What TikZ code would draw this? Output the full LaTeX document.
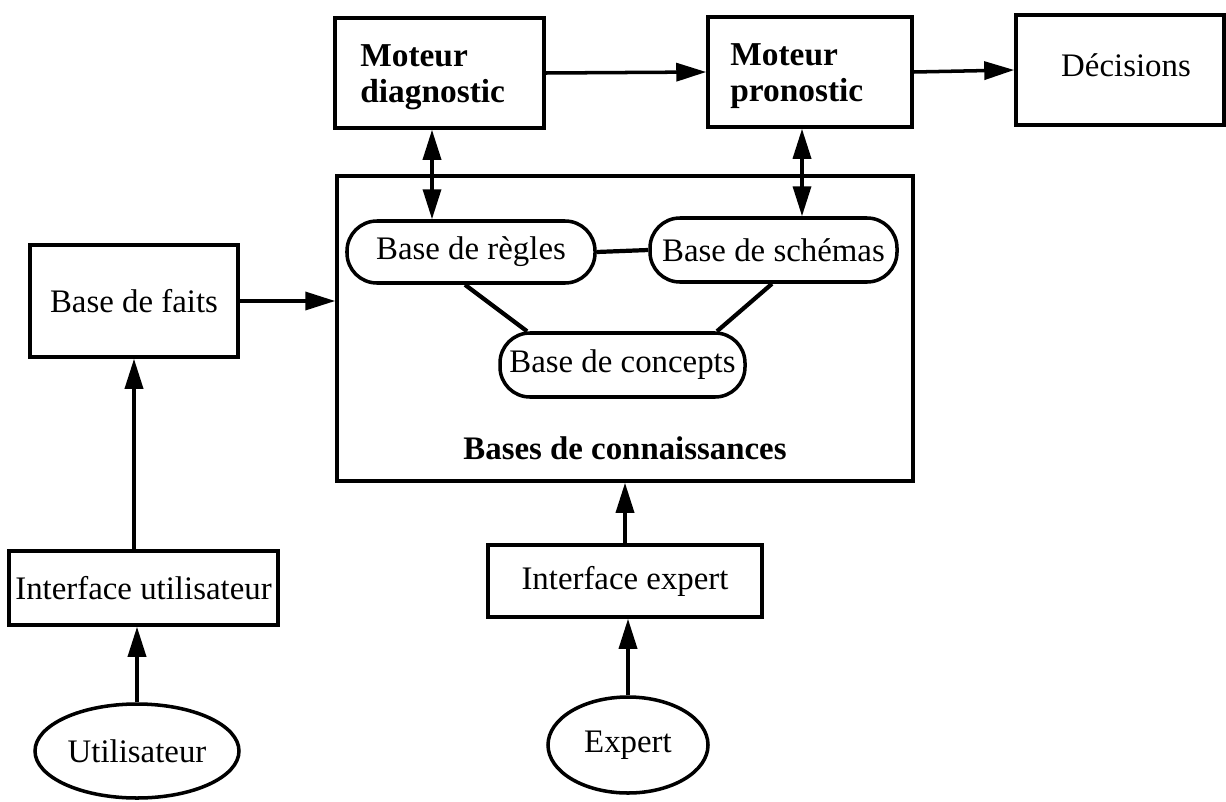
\documentclass[tikz,border=0pt]{standalone}
\usepackage{fontspec}
\setmainfont{Liberation Serif}
\usetikzlibrary{arrows.meta,shapes.geometric}

\begin{document}
\begin{tikzpicture}[x=0.02cm, y=-0.02cm,
    every node/.style={font=\fontsize{18.7}{21}\selectfont},
    boite/.style={draw, line width=2pt, inner sep=0pt},
    moteur/.style={align=left, inner sep=0pt, anchor=west, font=\fontsize{19}{20.5}\selectfont\bfseries},
    base/.style={draw, line width=2pt, rounded corners=0.6cm, inner sep=0pt},
    acteur/.style={draw, ellipse, line width=2pt, inner sep=0pt},
    fleche/.style={line width=2pt, -{Triangle[length=0.6cm,width=0.36cm]}},
    dfleche/.style={line width=2pt, {Triangle[length=0.6cm,width=0.36cm]}-{Triangle[length=0.6cm,width=0.36cm]}},
    lien/.style={line width=2.4pt}]
    \useasboundingbox (0,0) rectangle (1226,801);

    % moteurs et decisions
    \node[boite, minimum width=209*0.02cm, minimum height=110*0.02cm] (diag) at (439.5, 73) {};
    \node[moteur] (diagtxt) at (360, 77) {Moteur\\diagnostic};
    \node[boite, minimum width=204*0.02cm, minimum height=110*0.02cm] (pron) at (810, 72) {};
    \node[moteur] (prontxt) at (730, 76) {Moteur\\pronostic};
    \node[boite, minimum width=208*0.02cm, minimum height=110*0.02cm] (dec) at (1120, 70) {};
    \node[] (dectxt) at (1126, 65) {D\'ecisions};

    % bases de connaissances
    \node[boite, minimum width=576*0.02cm, minimum height=305*0.02cm] (kb) at (625, 328.5) {};
    \node[font=\fontsize{18.7}{21}\selectfont\bfseries] (kbtxt) at (625, 448) {Bases de connaissances};
    \node[base, minimum width=248*0.02cm, minimum height=62*0.02cm] (regles) at (471, 252) {Base de r\`egles};
    \node[base, minimum width=247*0.02cm, minimum height=64*0.02cm] (schemas) at (773.5, 250) {Base de sch\'emas};
    \node[base, minimum width=245*0.02cm, minimum height=64*0.02cm] (concepts) at (622.5, 365) {Base de concepts};

    % faits et interfaces
    \node[boite, minimum width=208*0.02cm, minimum height=112*0.02cm] (faits) at (134, 301) {Base de faits};
    \node[boite, minimum width=269*0.02cm, minimum height=74*0.02cm] (iu) at (143.5, 588) {Interface utilisateur};
    \node[boite, minimum width=274*0.02cm, minimum height=72*0.02cm] (ie) at (625, 581) {Interface expert};
    \node[acteur, minimum width=204*0.02cm, minimum height=94*0.02cm] (user) at (137, 751) {Utilisateur};
    \node[acteur, minimum width=160*0.02cm, minimum height=96*0.02cm] (expert) at (628, 745) {Expert};

    % connexions
    \draw[fleche] (diag.east) -- (pron.west);
    \draw[fleche] (pron.east) -- (dec.west);
    \draw[dfleche] (diag.south -| 432,0) -- (regles.north -| 432,0);
    \draw[dfleche] (pron.south -| 802,0) -- (schemas.north -| 802,0);
    \draw[lien] (regles.east) -- (schemas.west);
    \draw[lien] (regles.south -| 465,0) -- (concepts.north -| 527,0);
    \draw[lien] (schemas.south -| 772,0) -- (concepts.north -| 717,0);
    \draw[fleche] (faits.east) -- (kb.west |- faits.east);
    \draw[fleche] (iu.north -| faits.south) -- (faits.south);
    \draw[fleche] (user.north) -- (iu.south -| user.north);
    \draw[fleche] (ie.north) -- (kb.south -| ie.north);
    \draw[fleche] (expert.north) -- (ie.south -| expert.north);
\end{tikzpicture}
\end{document}
